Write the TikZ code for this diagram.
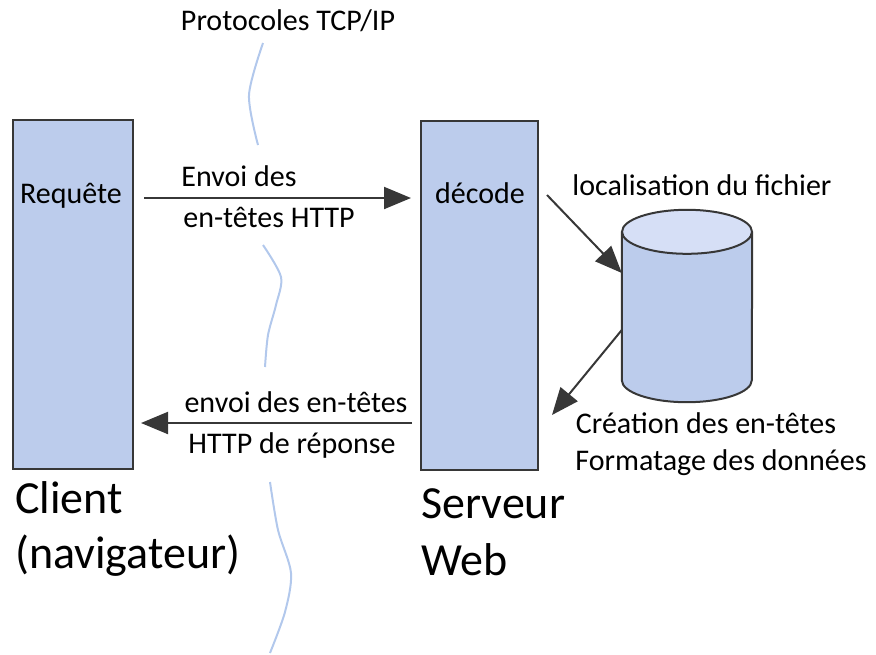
\documentclass[tikz,border=0pt]{standalone}
\usepackage{fontspec}
\setmainfont{Carlito}
\usetikzlibrary{arrows.meta}
\definecolor{boxblue}{RGB}{188,204,236}
\definecolor{topblue}{RGB}{214,223,246}
\definecolor{wireblue}{RGB}{178,200,236}
\definecolor{edge}{RGB}{55,55,55}

\begin{document}
\begin{tikzpicture}[x=1pt,y=-1pt,
    block/.style={draw=edge,line width=2pt,fill=boxblue,minimum width=120pt,minimum height=349pt,inner sep=0pt},
    lbl/.style={font=\fontsize{30}{32}\selectfont,inner sep=0pt,anchor=base},
    big/.style={font=\fontsize{46}{48}\selectfont,inner sep=0pt,anchor=base west},
    flow/.style={draw=edge,line width=2pt,-{Triangle[length=27pt,width=22pt]}},
    wire/.style={draw=wireblue,line width=2pt}
    ]
  \useasboundingbox (0,0) rectangle (876,654);

  % le protocole
  \node (tcp) at (288,30) [lbl] {Protocoles TCP/IP};
  \draw [wire] plot [smooth] coordinates {(263,43) (249,95) (258,145)};
  \draw [wire] plot [smooth] coordinates {(263,245) (281,277) (276,305) (268,335) (265,367)};
  \draw [wire] plot [smooth] coordinates {(270,482) (278,530) (291,573) (285,612) (270,653)};

  % client et serveur
  \node (client) at (73,294.5) [block] {};
  \node (server) at (479.5,295) [block,minimum width=117pt] {};
  \node (req) at (71,203) [lbl] {Requête};
  \node (dec) at (480,203) [lbl] {décode};
  \node (cname) at (15,513) [big] {Client};
  \node (cnav) at (15,568) [big] {(navigateur)};
  \node (sname) at (421,518) [big] {Serveur};
  \node (sweb) at (421,575) [big] {Web};

  % fichier
  \node (db) at (687,306) [minimum width=130pt,minimum height=148pt,inner sep=0pt] {};
  \draw [draw=edge,line width=2pt,fill=boxblue] (db.north west) -- (db.south west)
    arc [start angle=180,end angle=360,x radius=65pt,y radius=22pt] -- (db.north east);
  \draw [draw=edge,line width=2pt,fill=topblue] (db.north) ellipse [x radius=65pt,y radius=22pt];
  \node (loc) at (702,195) [lbl] {localisation du fichier};
  \node (crea) at (706,433) [lbl] {Création des en-têtes};
  \node (form) at (721,470) [lbl] {Formatage des données};
  \coordinate (out) at (552,415);

  % messages
  \node (env1) at (239,186) [lbl] {Envoi des};
  \node (env2) at (269,227) [lbl] {en-têtes HTTP};
  \node (rep1) at (296,412) [lbl] {envoi des en-têtes};
  \node (rep2) at (292,453) [lbl] {HTTP de réponse};
  \draw [flow] ([shift={(10pt,96.5pt)}]client.east) -- ([shift={(-9pt,97pt)}]server.west);
  \draw [flow] ([shift={(-8pt,-128pt)}]server.west) -- ([shift={(7pt,-128.5pt)}]client.east);
  \draw [flow] ([shift={(67pt,8pt)}]dec.base) -- ([yshift=33pt]db.west);
  \draw [flow] ([yshift=-24pt]db.west) -- (out);

\end{tikzpicture}
\end{document}
